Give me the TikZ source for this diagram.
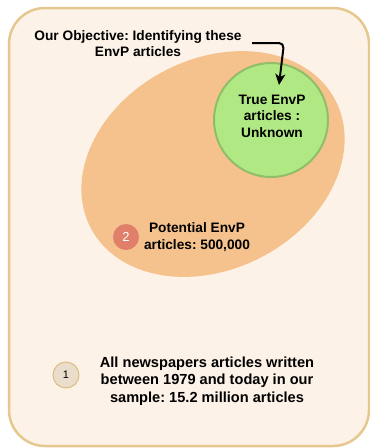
\documentclass[tikz,border=0pt]{standalone}
\usepackage{fontspec}
\setmainfont{Liberation Sans}
\usetikzlibrary{arrows.meta}
\frenchspacing
\definecolor{outerfill}{HTML}{FDF2E7}
\definecolor{outerline}{HTML}{E5C88F}
\definecolor{ellfill}{HTML}{F5C28D}
\definecolor{greenfill}{HTML}{B0E884}
\definecolor{greenline}{HTML}{90BE68}
\definecolor{badgetwo}{HTML}{E07F6A}
\definecolor{badgeonefill}{HTML}{EBDDCB}
\definecolor{badgeoneline}{HTML}{DCBE80}
\tikzset{
  label text/.style={font=\bfseries\fontsize{13.7}{16.5}\selectfont, align=center, text=black, inner sep=0pt},
  big label text/.style={label text, font=\bfseries\fontsize{14.6}{17.5}\selectfont},
  badge/.style={circle, minimum size=26pt, inner sep=0pt, font=\fontsize{13}{13}\selectfont},
}
\begin{document}
\begin{tikzpicture}[x=1pt,y=-1pt]
\useasboundingbox (0,0) rectangle (370,448);
% outer frame
\draw[fill=outerfill, draw=outerline, line width=2.5pt, rounded corners=36pt] (9,8) rectangle (369,446);
% potential ellipse
\fill[ellfill] (213,164) ellipse[x radius=138, y radius=105, rotate=27.6];
% true circle
\node[circle, minimum size=114pt, fill=greenfill, draw=greenline, line width=2pt] (true) at (271,120) {};
\node[label text] (truetxt) at (272,116) {True EnvP\\articles :\\Unknown};
% objective text
\node[label text] (objtxt) at (138,43.5) {Our Objective: Identifying these\\EnvP articles};
\coordinate (arrstart) at (252,43);
\coordinate (arrend) at (279,85);
\draw[line width=2pt, -{Stealth[length=11pt,width=10pt,inset=3pt]}, rounded corners=5pt] (arrstart) -- (284,43) -- (arrend);
% badge 2
\node[badge, fill=badgetwo, text=white] (b2) at (126,237) {2};
\node[label text] (pottxt) at (197,237) {Potential EnvP\\articles: 500,000};
% badge 1
\node[badge, fill=badgeonefill, draw=badgeoneline, line width=1pt, font=\fontsize{11}{11}\selectfont] (b1) at (66,375) {1};
\node[big label text] (alltxt) at (207,381) {All newspapers articles written\\between 1979 and today in our\\sample: 15.2 million articles};
\end{tikzpicture}
\end{document}
